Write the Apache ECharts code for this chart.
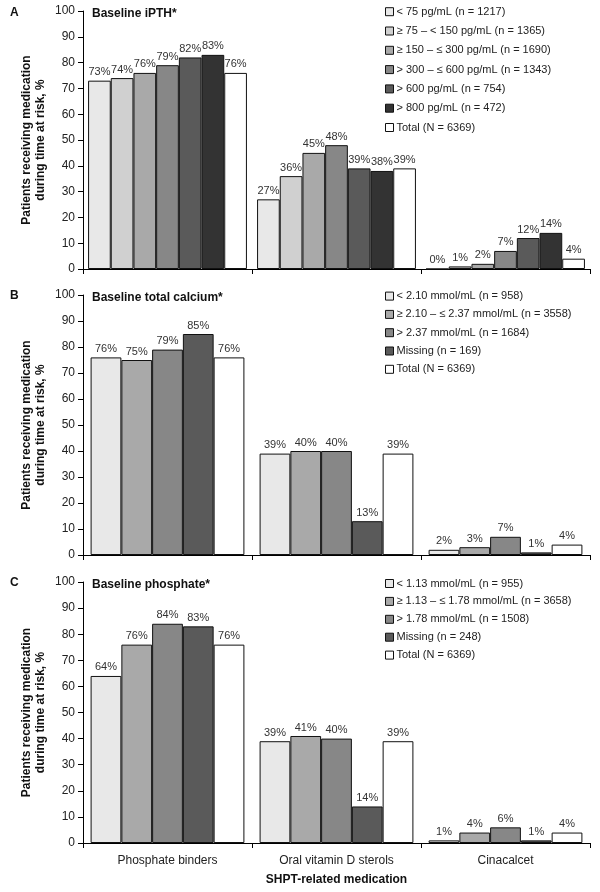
<!DOCTYPE html>
<html>
<head>
<meta charset="utf-8">
<script src="https://cdn.jsdelivr.net/npm/echarts@6/dist/echarts.min.js"></script>
<style>html,body{margin:0;padding:0;background:#fff}#c{width:600px;height:892px}</style>
</head>
<body>
<div id="c"></div>
<script>
var categories = ['Phosphate binders', 'Oral vitamin D sterols', 'Cinacalcet'];

// Panel A: Baseline iPTH
var namesA = ['< 75 pg/mL (n = 1217)', '\u2265 75 \u2013 < 150 pg/mL (n = 1365)', '\u2265 150 \u2013 \u2264 300 pg/mL (n = 1690)', '> 300 \u2013 \u2264 600 pg/mL (n = 1343)', '> 600 pg/mL (n = 754)', '> 800 pg/mL (n = 472)', 'Total (N = 6369)'];
var iPTHlt75 = [73, 27, 0];
var iPTH75to150 = [74, 36, 1];
var iPTH150to300 = [76, 45, 2];
var iPTH300to600 = [79, 48, 7];
var iPTHgt600 = [82, 39, 12];
var iPTHgt800 = [83, 38, 14];
var totalA = [76, 39, 4];

// Panel B: Baseline total calcium
var namesB = ['< 2.10 mmol/mL (n = 958)', '\u2265 2.10 \u2013 \u2264 2.37 mmol/mL (n = 3558)', '> 2.37 mmol/mL (n = 1684)', 'Missing (n = 169)', 'Total (N = 6369)'];
var caLow = [76, 39, 2];
var caMid = [75, 40, 3];
var caHigh = [79, 40, 7];
var caMissing = [85, 13, 1];
var totalB = [76, 39, 4];

// Panel C: Baseline phosphate
var namesC = ['< 1.13 mmol/mL (n = 955)', '\u2265 1.13 \u2013 \u2264 1.78 mmol/mL (n = 3658)', '> 1.78 mmol/mL (n = 1508)', 'Missing (n = 248)', 'Total (N = 6369)'];
var pLow = [64, 39, 1];
var pMid = [76, 41, 4];
var pHigh = [84, 40, 6];
var pMissing = [83, 14, 1];
var totalC = [76, 39, 4];

var yTicks = [0, 10, 20, 30, 40, 50, 60, 70, 80, 90, 100];

var colorsA = ['#e8e8e8', '#d0d0d0', '#a9a9a9', '#878787', '#5a5a5a', '#333333', '#ffffff'];
var colorsB = ['#e8e8e8', '#a9a9a9', '#878787', '#5a5a5a', '#ffffff'];

var FONT = '"Liberation Sans", Arial, sans-serif';

function mkSeries(names, datas, colors, idx) {
  return names.map(function (n, i) {
    return {
      type: 'bar', name: n, data: datas[i],
      xAxisIndex: idx, yAxisIndex: idx,
      barGap: '0%', barCategoryGap: idx === 0 ? '6%' : '9%',
      itemStyle: { color: colors[i], borderColor: '#111', borderWidth: 1 },
      label: { show: true, position: 'top', distance: 3, formatter: '{c}%', fontFamily: FONT, fontSize: 11, color: '#333' },
      emphasis: { disabled: true }, animation: false
    };
  });
}

var grids = [
  { left: 83, right: 10, top: 11, height: 258 },
  { left: 83, right: 10, top: 295, height: 260 },
  { left: 83, right: 10, top: 582, height: 261 }
];

function mkX(i) {
  return {
    type: 'category', gridIndex: i, data: categories,
    axisLine: { lineStyle: { color: '#000', width: 1 } },
    axisTick: { show: true, inside: false, length: 5, lineStyle: { color: '#000' } },
    axisLabel: { show: i === 2, margin: 12, fontFamily: FONT, fontSize: 12, color: '#222' },
    name: i === 2 ? 'SHPT-related medication' : '',
    nameLocation: 'middle', nameGap: 31, nameMoveOverlap: false,
    nameTextStyle: { fontFamily: FONT, fontSize: 12, fontWeight: 'bold', color: '#111' }
  };
}
function mkY(i) {
  return {
    type: 'value', gridIndex: i, min: 0, max: 100, interval: 10,
    splitLine: { show: false },
    axisLine: { show: true, lineStyle: { color: '#000', width: 1 } },
    axisTick: { show: true, inside: false, length: 5, lineStyle: { color: '#000' } },
    axisLabel: { margin: 8, fontFamily: FONT, fontSize: 12, color: '#222',
      formatter: function (v) { return yTicks.indexOf(v) >= 0 ? String(v) : ''; } },
    name: 'Patients receiving medication\nduring time at risk, %',
    nameLocation: 'middle', nameRotate: 90, nameGap: 35, nameMoveOverlap: false,
    nameTextStyle: { fontFamily: FONT, fontSize: 12, fontWeight: 'bold', color: '#111', lineHeight: 14 }
  };
}
function mkLegend(names, top, gap) {
  return {
    data: names, orient: 'vertical', left: 385, top: top, padding: 0,
    itemWidth: 8, itemHeight: 8, itemGap: gap, selectedMode: false,
    icon: 'rect',
    itemStyle: { borderWidth: 1, borderColor: '#111' },
    textStyle: { fontFamily: FONT, fontSize: 11, color: '#222', padding: [0, 0, 0, -2] }
  };
}

var titleStyle = { fontFamily: FONT, fontSize: 12, fontWeight: 'bold', color: '#111' };
var option = {
  backgroundColor: '#fff',
  animation: false,
  title: [
    { text: 'A', left: 5, top: 2, textStyle: titleStyle },
    { text: 'Baseline iPTH*', left: 87, top: 3, textStyle: titleStyle },
    { text: 'B', left: 5, top: 285, textStyle: titleStyle },
    { text: 'Baseline total calcium*', left: 87, top: 287, textStyle: titleStyle },
    { text: 'C', left: 5, top: 572, textStyle: titleStyle },
    { text: 'Baseline phosphate*', left: 87, top: 574, textStyle: titleStyle }
  ],
  legend: [
    mkLegend(namesA, 6.2, 8.3),
    mkLegend(namesB, 290.6, 7.3),
    mkLegend(namesC, 578, 6.9)
  ],
  grid: grids,
  xAxis: [mkX(0), mkX(1), mkX(2)],
  yAxis: [mkY(0), mkY(1), mkY(2)],
  series: [].concat(
    mkSeries(namesA, [iPTHlt75, iPTH75to150, iPTH150to300, iPTH300to600, iPTHgt600, iPTHgt800, totalA], colorsA, 0),
    mkSeries(namesB, [caLow, caMid, caHigh, caMissing, totalB], colorsB, 1),
    mkSeries(namesC, [pLow, pMid, pHigh, pMissing, totalC], colorsB, 2)
  )
};
var chart = echarts.init(document.getElementById('c'), null, { renderer: 'canvas' });
chart.setOption(option);
</script>
</body>
</html>
